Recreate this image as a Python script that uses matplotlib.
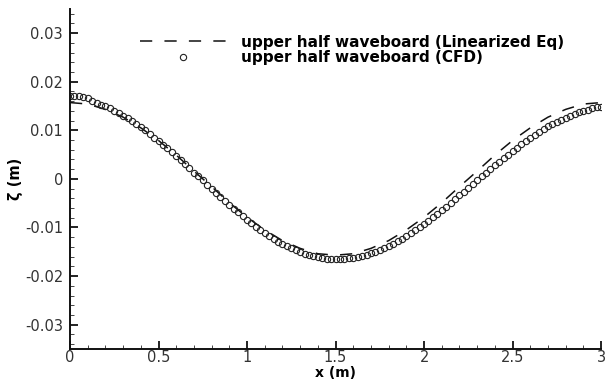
import matplotlib
matplotlib.use('Agg')
import matplotlib.pyplot as plt
from matplotlib.ticker import MultipleLocator
import numpy as np

# CFD samples every 0.025 m along the board
x_cfd = np.round(np.arange(121) * 0.025, 3)
zeta_cfd = [
    0.0170, 0.0171, 0.0171, 0.0169, 0.0166, 0.0161, 0.0157, 0.0153, 0.0149, 0.0145,
    0.0140, 0.0135, 0.0130, 0.0125, 0.0119, 0.0113, 0.0106, 0.0100, 0.0093, 0.0085,
    0.0078, 0.0070, 0.0063, 0.0055, 0.0047, 0.0039, 0.0030, 0.0022, 0.0013, 0.0005,
    -0.0003, -0.0012, -0.0020, -0.0029, -0.0037, -0.0045, -0.0053, -0.0061, -0.0069, -0.0077,
    -0.0084, -0.0091, -0.0098, -0.0105, -0.0111, -0.0117, -0.0123, -0.0129, -0.0134, -0.0139,
    -0.0143, -0.0147, -0.0151, -0.0154, -0.0157, -0.0159, -0.0161, -0.0163, -0.0164, -0.0165,
    -0.0165,
    -0.0165, -0.0164, -0.0163, -0.0162, -0.0160, -0.0158, -0.0156, -0.0153, -0.0150, -0.0146,
    -0.0142, -0.0138, -0.0133, -0.0128, -0.0123, -0.0118, -0.0112, -0.0106, -0.0099, -0.0093,
    -0.0086, -0.0079, -0.0072, -0.0065, -0.0057, -0.0050, -0.0042, -0.0034, -0.0027, -0.0019,
    -0.0011, -0.0003, 0.0005, 0.0013, 0.0020, 0.0028, 0.0035, 0.0043, 0.0050, 0.0058,
    0.0064, 0.0071, 0.0078, 0.0084, 0.0091, 0.0097, 0.0102, 0.0108, 0.0113, 0.0118,
    0.0122, 0.0126, 0.0130, 0.0134, 0.0137, 0.0140, 0.0142, 0.0145, 0.0147, 0.0148,
]

# linearized equation, every 0.1 m
x_lin = np.round(np.arange(31) * 0.1, 2)
zeta_lin = [
    0.0157, 0.0154, 0.0143, 0.0127, 0.0105, 0.0079, 0.0049, 0.0016, -0.0016, -0.0049,
    -0.0079, -0.0105, -0.0127, -0.0143, -0.0154, -0.0157, -0.0154, -0.0143, -0.0127, -0.0105,
    -0.0079, -0.0049, -0.0016, 0.0016, 0.0049, 0.0079, 0.0105, 0.0127, 0.0143, 0.0154,
    0.0157,
]

xticks = [0, 0.5, 1, 1.5, 2, 2.5, 3]
xticklabels = ['0', '0.5', '1', '1.5', '2', '2.5', '3']
yticks = [-0.03, -0.02, -0.01, 0, 0.01, 0.02, 0.03]
yticklabels = ['-0.03', '-0.02', '-0.01', '0', '0.01', '0.02', '0.03']

fig = plt.figure(figsize=(6.14, 3.81), dpi=100)
ax = fig.add_axes([0.114, 0.084, 0.865, 0.893])

ax.plot(x_lin, zeta_lin, color='#111111', lw=1.1, linestyle=(0, (8, 8)),
        label='upper half waveboard (Linearized Eq)')
ax.plot(x_cfd, zeta_cfd, linestyle='none', marker='o', markersize=4.5,
        markerfacecolor='none', markeredgecolor='#222222', markeredgewidth=0.8,
        label='upper half waveboard (CFD)')

ax.set_xlim(0, 3)
ax.set_ylim(-0.035, 0.035)
ax.set_xticks(xticks)
ax.set_xticklabels(xticklabels)
ax.set_yticks(yticks)
ax.set_yticklabels(yticklabels)
ax.xaxis.set_minor_locator(MultipleLocator(0.1))
ax.yaxis.set_minor_locator(MultipleLocator(0.002))

for s in ['top', 'right']:
    ax.spines[s].set_visible(False)
for s in ['left', 'bottom']:
    ax.spines[s].set_linewidth(1.4)
    ax.spines[s].set_color('#111111')

ax.tick_params(which='major', direction='in', length=6, width=1.3, color='#111111',
               labelsize=10.5, labelcolor='#333333')
ax.tick_params(which='minor', direction='in', length=3, width=0.7, color='#444444')
ax.tick_params(axis='y', pad=5)
ax.tick_params(axis='x', pad=1)

ax.set_xlabel('x (m)', fontsize=10, fontweight='bold')
ax.xaxis.set_label_coords(0.5, -0.049)
ax.set_ylabel('ζ (m)', fontsize=10.5, fontweight='bold')
ax.yaxis.set_label_coords(-0.088, 0.5)

ax.legend(loc='center', bbox_to_anchor=(0.531, 0.879), frameon=False, numpoints=1,
          handlelength=5.6, handletextpad=1.0, labelspacing=0.05,
          prop={'weight': 'bold', 'size': 11})

fig.savefig('out.png', dpi=100)
